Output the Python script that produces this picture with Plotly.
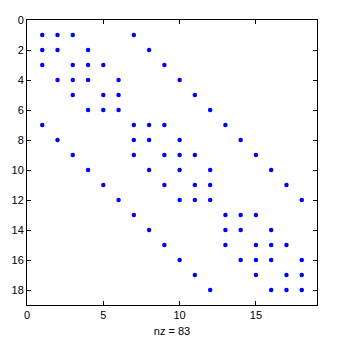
import plotly.graph_objects as go

# Sparsity pattern: for each row, the columns holding nonzeros
rows = list(range(1, 19))
row_cols = [
    [1, 2, 3, 7],
    [1, 2, 4, 8],
    [1, 3, 4, 5, 9],
    [2, 3, 4, 6, 10],
    [3, 5, 6, 11],
    [4, 5, 6, 12],
    [1, 7, 8, 9, 13],
    [2, 7, 8, 10, 14],
    [3, 7, 9, 10, 11, 15],
    [4, 8, 10, 12, 16],
    [5, 9, 11, 12, 17],
    [6, 10, 11, 12, 18],
    [7, 13, 14, 15],
    [8, 13, 14, 16],
    [9, 13, 15, 16, 17],
    [10, 14, 15, 16, 18],
    [11, 15, 17, 18],
    [12, 16, 17, 18],
]
x_ticks = [0, 5, 10, 15]
y_ticks = [0, 2, 4, 6, 8, 10, 12, 14, 16, 18]

xs, ys = [], []
for r, cols in zip(rows, row_cols):
    for c in cols:
        xs.append(c)
        ys.append(r)
nz = len(xs)

fig = go.Figure()
fig.add_trace(go.Scatter(
    x=xs, y=ys, mode="markers",
    marker=dict(color="#0000ff", size=4.5, symbol="circle", line=dict(width=0)),
    hoverinfo="skip", showlegend=False,
))

axis_common = dict(
    showgrid=False, zeroline=False, showline=True, linecolor="black", linewidth=1,
    mirror="ticks", ticks="inside", ticklen=4, tickcolor="black", tickwidth=1,
    tickfont=dict(family="Liberation Sans, Arial", size=11, color="black"),
)
fig.update_layout(
    width=342, height=348,
    margin=dict(l=27, r=25, t=20, b=38),
    paper_bgcolor="white", plot_bgcolor="white",
    xaxis=dict(range=[0, 19], tickvals=x_ticks, **axis_common,
               title=dict(text=f"nz = {nz}", standoff=7,
                          font=dict(family="Liberation Sans, Arial", size=11, color="black"))),
    yaxis=dict(range=[19, 0], tickvals=y_ticks, **axis_common),
)
fig.write_html("out.html")
